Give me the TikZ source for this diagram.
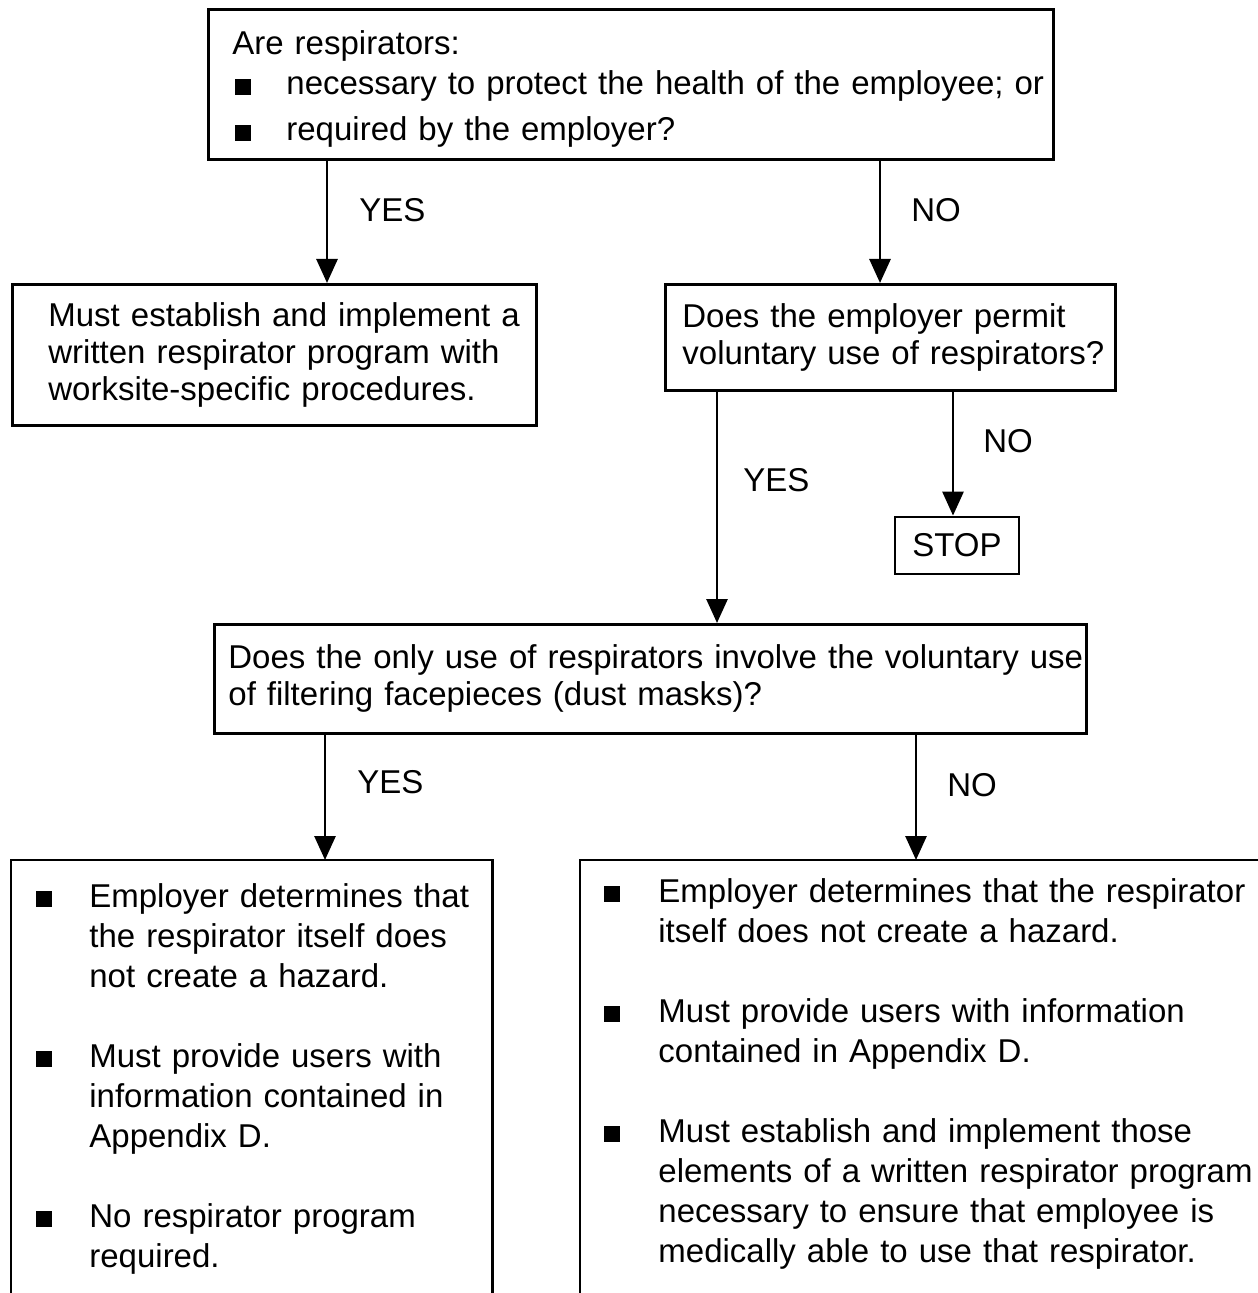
\documentclass[tikz,border=0pt]{standalone}
\usepackage{fontspec}
\setmainfont{Liberation Sans}
\usetikzlibrary{arrows.meta}
\tikzset{>={Triangle[length=12pt,width=10.5pt]}}
\newcommand{\sqb}{\rule{8pt}{8pt}}

\begin{document}
\begin{tikzpicture}[x=0.5pt,y=-0.5pt,
    box/.style={draw,line width=1.4pt,inner xsep=0pt,inner ysep=0pt,align=left,
      font=\fontsize{16.5pt}{18.5pt}\selectfont},
    lbl/.style={inner sep=0pt,font=\fontsize{16.5pt}{18.5pt}\selectfont},
    flow/.style={->,line width=1.4pt}]
  \useasboundingbox (0,0) rectangle (1257,1293);
  \coordinate (bot) at (0,1293);
  % questions
  \node[box,anchor=north west,text width=422.5pt,minimum height=75pt,
        font=\fontsize{16.5pt}{20pt}\selectfont] (q1) at (207,8)
    {\noindent\leftskip=12pt
     \begin{tabular}{@{}l@{\hspace{17.5pt}}l@{}}
       \multicolumn{2}{@{}l@{}}{\rule{0pt}{19.5pt}Are respirators:}\\
       \hspace*{1.5pt}\sqb & necessary to protect the health of the employee; or\\[3pt]
       \hspace*{1.5pt}\sqb & required by the employer?
     \end{tabular}\par};
  \node[box,anchor=north west,text width=262pt,minimum height=70.5pt] (prog) at (11,283)
    {\noindent\leftskip=18pt Must establish and implement a\\
     written respirator program with\\
     worksite-specific procedures.\par};
  \node[box,anchor=north west,text width=225pt,minimum height=53pt] (vol) at (664,283)
    {\noindent\leftskip=8.5pt Does the employer permit\\
     voluntary use of respirators?\par};
  \node[box,minimum width=62pt,minimum height=28.5pt] (stop) at (957,545.5) {STOP};
  \node[box,anchor=north west,text width=436pt,minimum height=54.5pt] (only) at (213,623)
    {\noindent\leftskip=7pt Does the only use of respirators involve the voluntary use\\
     of filtering facepieces (dust masks)?\par};
  % answers, open at the bottom
  \node[box,draw=none,anchor=north west,text width=239.5pt,inner ysep=9pt,
        font=\fontsize{16.5pt}{20pt}\selectfont] (dust) at (11,860)
    {\noindent\leftskip=12pt
     \begin{tabular}[t]{@{}l@{\hspace{18.5pt}}l@{}}
       \sqb & Employer determines that\\
            & the respirator itself does\\
            & not create a hazard.\\[20pt]
       \sqb & Must provide users with\\
            & information contained in\\
            & Appendix D.\\[20pt]
       \sqb & No respirator program\\
            & required.
     \end{tabular}\par};
  \node[box,draw=none,anchor=north west,text width=338.5pt,inner ysep=6.5pt,
        font=\fontsize{16.5pt}{20pt}\selectfont] (elem) at (580,860)
    {\noindent\leftskip=11.5pt
     \begin{tabular}[t]{@{}l@{\hspace{19pt}}l@{}}
       \sqb & Employer determines that the respirator\\
            & itself does not create a hazard.\\[20pt]
       \sqb & Must provide users with information\\
            & contained in Appendix D.\\[20pt]
       \sqb & Must establish and implement those\\
            & elements of a written respirator program\\
            & necessary to ensure that employee is\\
            & medically able to use that respirator.
     \end{tabular}\par};
  \draw[line width=1.4pt] (dust.north west |- bot) -- (dust.north west)
    -- (dust.north east) -- (dust.north east |- bot);
  \draw[line width=1.4pt] (elem.north west |- bot) -- (elem.north west) -- (elem.north east);
  % arrows
  \coordinate (a1) at ([xshift=60pt]q1.south west);
  \coordinate (a2) at ([xshift=336.5pt]q1.south west);
  \coordinate (a3) at ([xshift=26.5pt]vol.south west);
  \coordinate (a4) at ([xshift=144.5pt]vol.south west);
  \coordinate (a5) at ([xshift=56pt]only.south west);
  \coordinate (a6) at ([xshift=351.5pt]only.south west);
  \draw[flow] (a1) -- (a1 |- prog.north) node[lbl,pos=0.4,right=15.5pt] {YES};
  \draw[flow] (a2) -- (a2 |- vol.north) node[lbl,pos=0.4,right=15pt] {NO};
  \draw[flow] (a3) -- (a3 |- only.north) node[lbl,pos=0.38,right=12.5pt] {YES};
  \draw[flow] (a4) -- (a4 |- stop.north) node[lbl,pos=0.4,right=14.5pt] {NO};
  \draw[flow] (a5) -- (a5 |- dust.north) node[lbl,pos=0.38,right=15.5pt] {YES};
  \draw[flow] (a6) -- (a6 |- elem.north) node[lbl,pos=0.4,right=15pt] {NO};
\end{tikzpicture}
\end{document}
